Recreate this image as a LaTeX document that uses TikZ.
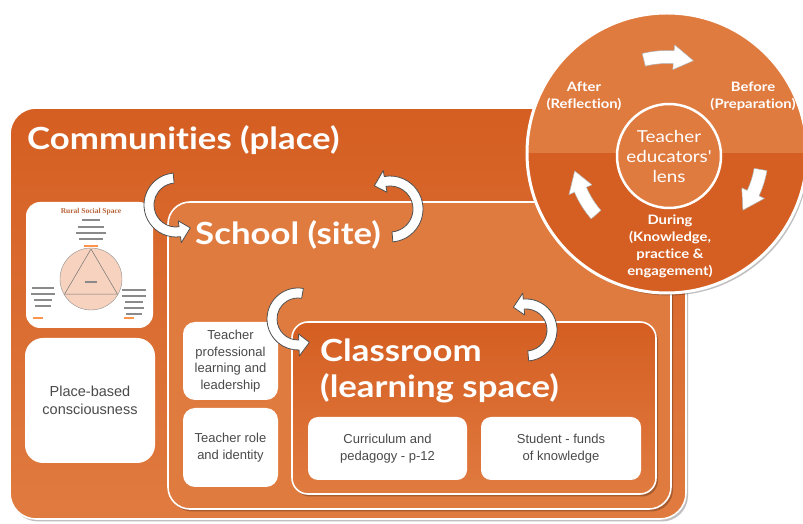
\documentclass[tikz,border=0pt]{standalone}
\usepackage{fontspec}
\setmainfont{Liberation Sans}
\newfontfamily\headfont{Lato}[FakeStretch=1.14, Ligatures=NoCommon]
\newfontfamily\minifont{Liberation Serif}
\usetikzlibrary{shadows}
\definecolor{darkor}{HTML}{D55E22}
\definecolor{lightor}{HTML}{E07B40}
\definecolor{boxtext}{HTML}{4A4A4A}
\definecolor{arrowline}{HTML}{505050}
\definecolor{rsstitle}{HTML}{B8653A}
\definecolor{peach}{HTML}{F7D3BF}
\definecolor{minibar}{HTML}{8A8A8A}
\newcommand\curvedblock[9]{%
  \filldraw[#1] ([shift={(#2,#3)}]#5:{#4+#7}) arc[start angle=#5, end angle=#6, radius={#4+#7}]
   -- ([shift={(#2,#3)}]#6:{#4+#8}) -- ([shift={(#2,#3)}]{#6+#9}:#4)
   -- ([shift={(#2,#3)}]#6:{#4-#8}) -- ([shift={(#2,#3)}]#6:{#4-#7})
   arc[start angle=#6, end angle=#5, radius={#4-#7}] -- cycle;}
\tikzset{
  softshadow/.style={drop shadow={shadow xshift=2pt, shadow yshift=-2.5pt, fill=black, opacity=0.25}},
  bigbox/.style={draw=white, line width=1.6pt, softshadow},
  whitebox/.style={fill=white, rounded corners=12pt, align=center, text=boxtext,
    font=\fontsize{13}{16.5}\selectfont, inner sep=2pt},
  heading/.style={text=white, inner sep=0pt, font=\headfont\bfseries\fontsize{30.5}{36}\selectfont},
  circtext/.style={text=white, align=center, font=\headfont\bfseries\fontsize{13}{17}\selectfont},
  blockarrow/.style={fill=white, draw=arrowline, line width=0.8pt, line join=round},
  circarrow/.style={fill=white, draw=black!30, line width=0.5pt, line join=round},
  minibarstyle/.style={fill=minibar},
  miniorange/.style={fill=orange!80!red!70},
}
\begin{document}
\begin{tikzpicture}[x=1pt,y=1pt]
\useasboundingbox (0,0) rectangle (803,524);
\fill[white] (0,0) rectangle (803,524);

% Communities box
\node[bigbox, top color=darkor, bottom color=lightor, rounded corners=26pt,
  minimum width=676pt, minimum height=411pt] (comm) at (348,210.5) {};
\node[heading, anchor=base west] (commtitle) at (27,374) {Communities (place)};

% Rural social space picture box
\node[whitebox, minimum width=127pt, minimum height=126pt, rounded corners=14pt] (rural) at (89.5,259) {};
\node[text=rsstitle, font=\minifont\bfseries\fontsize{7.5}{8}\selectfont, inner sep=0pt] (rsst) at (91,312) {Rural Social Space};
\foreach \yy/\ww in {304/9, 297/13, 291/15, 285/12}
  \fill[minibarstyle] (91-\ww,\yy-0.7) rectangle (91+\ww,\yy+0.7);
\fill[miniorange] (84,277.3) rectangle (98,278.7);
\filldraw[fill=peach, draw=black!45, line width=0.4pt] (91,245) circle[radius=31];
\draw[black!55, line width=0.5pt] (91,275) -- (64.5,229.8) -- (117.5,229.8) -- cycle;
\fill[minibarstyle] (85,241.3) rectangle (97,242.7);
\foreach \yy/\ww in {236/11, 230/12, 224/9, 218/8}
  \fill[minibarstyle] (43-\ww,\yy-0.7) rectangle (43+\ww,\yy+0.7);
\fill[miniorange] (33,205.3) rectangle (43,206.7);
\foreach \yy/\ww in {234/12, 228/12, 222/9, 216/10, 210/8}
  \fill[minibarstyle] (134-\ww,\yy-0.7) rectangle (134+\ww,\yy+0.7);
\fill[miniorange] (124,205.3) rectangle (134,206.7);

\node[whitebox, minimum width=130pt, minimum height=125pt, rounded corners=18pt,
  font=\fontsize{14.5}{18.5}\selectfont] (place) at (90,123.5) {Place-based\\consciousness};

% School box
\node[bigbox, fill=lightor, rounded corners=22pt,
  minimum width=503pt, minimum height=307pt] (school) at (419.5,168.5) {};
\node[heading, anchor=base west] (schooltitle) at (195,279) {School (site)};
\node[whitebox, minimum width=95pt, minimum height=78pt] (tpl) at (230.5,163) {Teacher\\professional\\learning and\\leadership};
\node[whitebox, minimum width=95pt, minimum height=79pt] (role) at (230.5,76.5) {Teacher role\\and identity};

% Classroom box
\node[bigbox, top color=darkor, bottom color=lightor, rounded corners=16pt,
  minimum width=364pt, minimum height=172pt] (class) at (474,116) {};
\node[heading, anchor=base west] (classtitle1) at (320,162) {Classroom};
\node[heading, anchor=base west] (classtitle2) at (320,126) {(learning space)};
\node[whitebox, minimum width=159pt, minimum height=63pt, rounded corners=10pt] (curr) at (387.5,75.5) {Curriculum and\\pedagogy - p-12};
\node[whitebox, minimum width=160pt, minimum height=63pt, rounded corners=10pt] (stud) at (561,75.5) {Student - funds\\of knowledge};

% curved block arrows between levels
\curvedblock{blockarrow}{176}{319}{27}{95}{278}{5}{11}{24}
\curvedblock{blockarrow}{390}{315}{28}{-85}{100}{5}{11}{24}
\curvedblock{blockarrow}{298}{205}{26}{80}{272}{5}{11}{24}
\curvedblock{blockarrow}{526}{194}{26}{-85}{95}{5}{11}{24}

% Teacher educators' lens circle
\node[circle, minimum size=280pt, fill=lightor, draw=white, line width=3pt, softshadow,
  path picture={\fill[darkor] (path picture bounding box.west) rectangle (path picture bounding box.south east);}]
  (lens) at (667,371) {};
\node[circle, minimum size=104pt, fill=lightor, draw=white, line width=2.5pt, align=center,
  text=white, inner sep=0pt, font=\headfont\fontsize{16.5}{20}\selectfont] (lensin) at (669,368) {Teacher\\educators'\\lens};
\node[circtext] (after) at (584,428) {After\\(Reflection)};
\node[circtext] (before) at (753,428) {Before\\(Preparation)};
\node[circtext] (during) at (670,278) {During\\(Knowledge,\\practice \&\\engagement)};
\curvedblock{circarrow}{667}{371}{96}{104}{86}{6.5}{12.5}{-12}
\curvedblock{circarrow}{667}{371}{95}{-10}{-25}{6.5}{12.5}{-12}
\curvedblock{circarrow}{667}{371}{94}{221}{203}{6.5}{12.5}{-12}
\end{tikzpicture}
\end{document}
